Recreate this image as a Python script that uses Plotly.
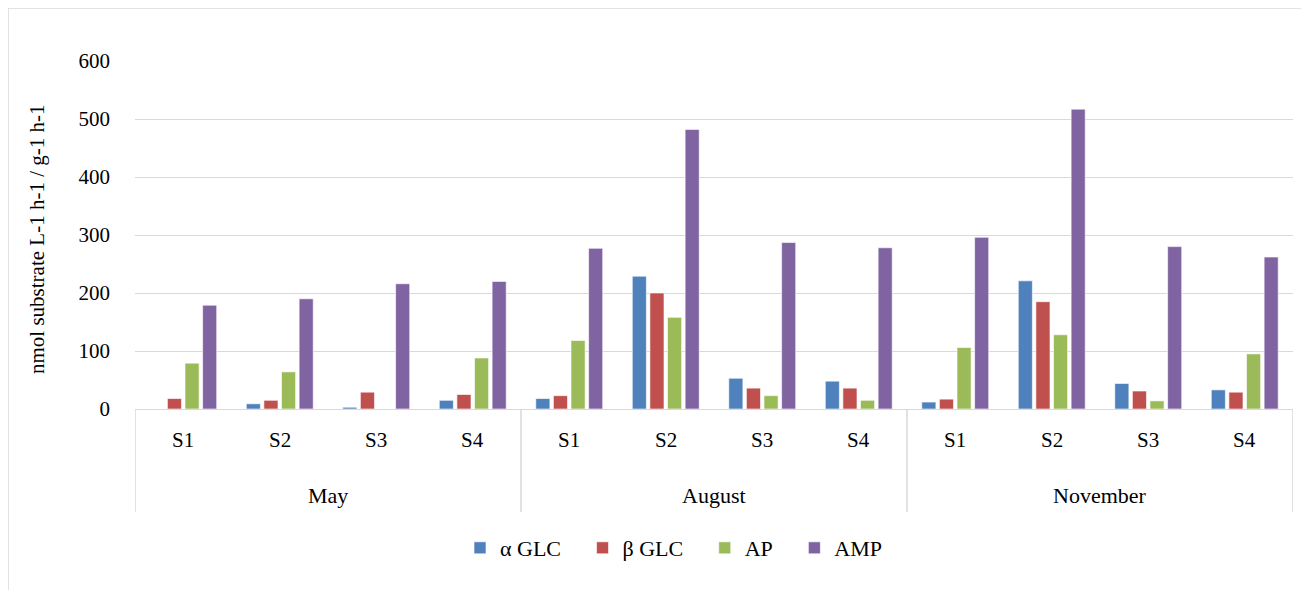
import plotly.graph_objects as go

month_names = ["May", "August", "November"]
site_names = ["S1", "S2", "S3", "S4"]
months = [m for m in month_names for _ in site_names]
sites = site_names * 3
categories = [f"{m} {s}" for m, s in zip(months, sites)]

alpha_glc = [0, 9, 3, 15, 18, 229, 53, 48, 12, 221, 44, 33]
beta_glc = [18, 15, 29, 25, 23, 200, 36, 36, 17, 185, 31, 29]
ap = [79, 64, 0, 88, 118, 158, 23, 15, 106, 128, 14, 95]
amp = [179, 190, 216, 220, 277, 482, 287, 278, 296, 517, 280, 262]

NB = "\u00a0"
series = [
    ("\u03b1 GLC" + NB * 3, alpha_glc, "#4F81BD"),
    ("\u03b2 GLC" + NB * 3, beta_glc, "#C0504D"),
    ("AP" + NB * 3, ap, "#9BBB59"),
    ("AMP", amp, "#8064A2"),
]

FONT = "Liberation Serif"
OFF = 8  # page body margin
W, H = 1309 - OFF, 590 - OFF
L, R, T, B = 127, 16, 53, 181
PW, PH = W - L - R, H - T - B


def py(pix):
    """screen pixel row -> paper y"""
    return (H - B - (pix - OFF)) / PH


def px(pix):
    """screen pixel column -> paper x"""
    return (pix - OFF - L) / PW


fig = go.Figure()
for name, vals, color in series:
    fig.add_trace(go.Bar(
        x=categories, y=vals, name=name,
        marker=dict(color=color, line=dict(color="rgba(255,255,255,0.6)", width=1)),
    ))

fig.update_layout(
    width=W, height=H,
    margin=dict(l=L, r=R, t=T, b=B, autoexpand=False),
    paper_bgcolor="white", plot_bgcolor="white",
    barmode="group", bargap=0.27, bargroupgap=0.2,
    font=dict(family=FONT, size=20, color="#000000"),
    legend=dict(orientation="h", x=px(674), xanchor="center", y=py(548), yanchor="middle",
                font=dict(family=FONT, size=22), itemwidth=30, traceorder="normal",
                bgcolor="rgba(0,0,0,0)"),
    showlegend=True,
)
fig.update_yaxes(
    range=[0, 600], dtick=100, showgrid=True, gridcolor="#D9D9D9", gridwidth=1,
    zeroline=False, showline=False, ticks="", tickfont=dict(size=21),
    ticklabelstandoff=24, automargin=False,
)
fig.update_xaxes(
    type="category", categoryorder="array", categoryarray=categories,
    showticklabels=False, ticks="", showline=True, linecolor="#D9D9D9", linewidth=1,
    automargin=False, range=[-0.5, len(categories) - 0.5],
)

# y-axis title
fig.add_annotation(text="nmol substrate L-1 h-1 / g-1 h-1", xref="paper", yref="paper",
                   x=px(37), y=py(240), textangle=-90, showarrow=False,
                   font=dict(family=FONT, size=21), xanchor="center", yanchor="middle")

# site labels
for i, s in enumerate(sites):
    fig.add_annotation(text=s, x=i, xref="x", y=py(440), yref="paper", showarrow=False,
                       font=dict(family=FONT, size=21), yanchor="middle")
# month labels
n = len(site_names)
for j, m in enumerate(month_names):
    fig.add_annotation(text=m, x=j * n + (n - 1) / 2, xref="x", y=py(495), yref="paper",
                       showarrow=False, font=dict(family=FONT, size=22), yanchor="middle")
# group separators
for j in range(len(month_names) + 1):
    fig.add_shape(type="line", xref="x", yref="paper", x0=j * n - 0.5, x1=j * n - 0.5,
                  y0=0, y1=py(512), line=dict(color="#D9D9D9", width=1.5))

# outer chart border
fig.add_shape(type="rect", xref="paper", yref="paper",
              x0=px(8), x1=px(1320), y0=py(620), y1=py(8),
              line=dict(color="#D9D9D9", width=1.5), fillcolor="rgba(0,0,0,0)", layer="below")

fig.write_html("out.html")
